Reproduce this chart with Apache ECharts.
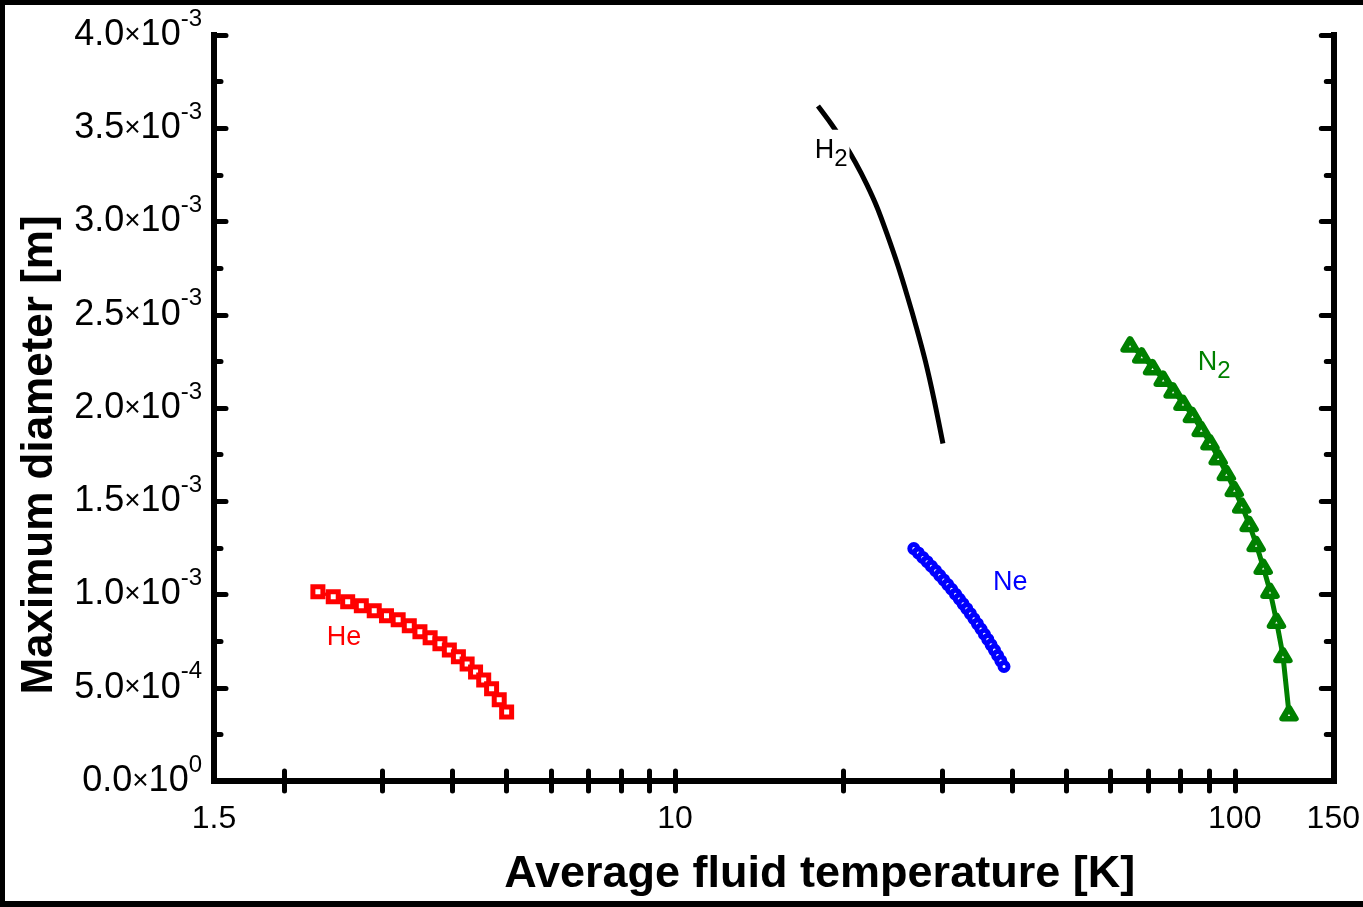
<!DOCTYPE html>
<html><head><meta charset="utf-8">
<script src="https://cdn.jsdelivr.net/npm/echarts@6/dist/echarts.min.js"></script>
<style>
html,body{margin:0;padding:0;background:#fff;}
#chart{width:1363px;height:907px;}
#frame{position:absolute;left:0;top:0;width:1358px;height:896px;border-left:5px solid #000;border-top:5px solid #000;border-bottom:6px solid #000;pointer-events:none;}
</style></head>
<body><div id="chart"></div><div id="frame"></div>
<script>
// ---- data ----
const heT = [2.3, 2.45, 2.6, 2.75, 2.9, 3.05, 3.2, 3.35, 3.5, 3.65, 3.8, 3.95, 4.1, 4.25, 4.4, 4.55, 4.7, 4.85, 5.0];
const heD = [1.015e-3, 0.988e-3, 0.961e-3, 0.940e-3, 0.913e-3, 0.886e-3, 0.864e-3, 0.832e-3, 0.800e-3, 0.768e-3,
             0.736e-3, 0.703e-3, 0.666e-3, 0.628e-3, 0.585e-3, 0.542e-3, 0.494e-3, 0.435e-3, 0.370e-3];

const neT = [26.7, 27.2, 27.7, 28.2, 28.7, 29.2, 29.7, 30.2, 30.7, 31.2, 31.7, 32.2, 32.7,
             33.2, 33.7, 34.2, 34.7, 35.2, 35.7, 36.2, 36.7, 37.2, 37.7, 38.2, 38.7];
const neD = [1.246e-3, 1.223e-3, 1.199e-3, 1.176e-3, 1.152e-3, 1.128e-3, 1.103e-3, 1.078e-3, 1.053e-3, 1.028e-3,
             1.002e-3, 0.976e-3, 0.950e-3, 0.924e-3, 0.897e-3, 0.870e-3, 0.842e-3, 0.815e-3, 0.787e-3, 0.759e-3,
             0.730e-3, 0.702e-3, 0.673e-3, 0.644e-3, 0.614e-3];

const h2T = [18, 19, 20, 21, 22, 23, 24, 25, 26, 27, 28, 29, 30.1];
const h2D = [3.619e-3, 3.524e-3, 3.424e-3, 3.316e-3, 3.199e-3, 3.070e-3, 2.920e-3, 2.765e-3, 2.600e-3, 2.430e-3,
             2.252e-3, 2.050e-3, 1.810e-3];

const n2T = [65.0, 68.2, 71.3, 74.5, 77.6, 80.8, 84.0, 87.1, 90.3, 93.4, 96.6, 99.8, 102.9, 106.1, 109.2,
             112.4, 115.6, 118.7, 121.9, 125.0];
const n2D = [2.341e-3, 2.282e-3, 2.219e-3, 2.157e-3, 2.094e-3, 2.028e-3, 1.963e-3, 1.888e-3, 1.816e-3, 1.736e-3,
             1.652e-3, 1.566e-3, 1.477e-3, 1.378e-3, 1.271e-3, 1.149e-3, 1.020e-3, 0.859e-3, 0.675e-3, 0.363e-3];

const xLabelValues = [1.5, 10, 100, 150];
const xTickValues = [2, 3, 4, 5, 6, 7, 8, 9, 10, 20, 30, 40, 50, 60, 70, 80, 90, 100];
const yMin = 0, yMax = 4.0e-3, yStep = 0.5e-3;

// series name labels: [text, T, D]
const heLabel = ['He', 2.561, 0.768e-3];
const neLabel = ['Ne', 39.7, 1.062e-3];
const h2Label = ['H', 19.0, 3.380e-3];
const n2Label = ['N', 91.9, 2.242e-3];

// ---- chart ----
const F = 'Liberation Sans, Arial, sans-serif';
const zip = (a, b) => a.map((v, i) => [v, b[i]]);

function sciLabel(v) {
  if (Math.abs(v) < 1e-12) return '{m|0.0}{x|×}{m|10}{s|0}';
  const e = Math.floor(Math.log10(v) + 1e-9);
  const m = v / Math.pow(10, e);
  return '{m|' + m.toFixed(1) + '}{x|×}{m|10}{s|' + e + '}';
}

function nameMark(lbl, color, sub, bg) {
  const fmt = sub ? '{a|' + lbl[0] + '}{b|2}' : '{a|' + lbl[0] + '}';
  return {
    symbol: 'rect', symbolSize: 1, silent: true, animation: false,
    itemStyle: { color: 'rgba(0,0,0,0)' },
    label: {
      show: true, position: 'inside', formatter: fmt,
      backgroundColor: bg ? '#fff' : 'transparent', padding: bg ? [0, 2, 0, 2] : 0,
      rich: {
        a: { fontSize: 27, fontFamily: F, color: color },
        b: { fontSize: 24, fontFamily: F, color: color, padding: [18, 0, 0, 0] }
      }
    },
    data: [{ coord: [lbl[1], lbl[2]] }]
  };
}

const xCommon = {
  type: 'log', logBase: 10, min: 1.5, max: 150,
  axisLine: { show: true, lineStyle: { color: '#000', width: 6, cap: 'square' } },
  axisTick: { show: true, inside: true, length: 10, customValues: xTickValues, lineStyle: { color: '#000', width: 5, cap: 'round' } },
  splitLine: { show: false }, minorTick: { show: false }, minorSplitLine: { show: false }
};
const yCommon = {
  type: 'value', min: yMin, max: yMax, interval: yStep,
  axisLine: { show: true, lineStyle: { color: '#000', width: 6, cap: 'square' } },
  axisTick: { show: true, inside: true, length: 12, lineStyle: { color: '#000', width: 5, cap: 'round' } },
  minorTick: { show: true, splitNumber: 2, length: 7, lineStyle: { color: '#000', width: 5, cap: 'round' } },
  splitLine: { show: false }, minorSplitLine: { show: false }
};

const chart = echarts.init(document.getElementById('chart'), null, { renderer: 'canvas' });
chart.setOption({
  animation: false,
  backgroundColor: '#fff',
  grid: { left: 214, right: 25, top: 35, bottom: 126, containLabel: false },
  xAxis: [
    Object.assign({}, xCommon, {
      position: 'bottom',
      axisLabel: {
        show: true, customValues: xLabelValues, margin: 22, fontSize: 32, fontFamily: F, color: '#000',
        formatter: v => String(Number(Number(v).toPrecision(6)))
      },
      name: 'Average fluid temperature [K]', nameLocation: 'middle', nameGap: 71,
      nameTextStyle: { fontSize: 45, fontWeight: 'bold', fontFamily: F, color: '#000', padding: [0, 0, 0, 92] }
    }),
    Object.assign({}, xCommon, { position: 'top', axisLabel: { show: false } })
  ],
  yAxis: [
    Object.assign({}, yCommon, {
      position: 'left',
      axisLabel: {
        show: true, margin: 12, formatter: sciLabel, color: '#000',
        rich: {
          m: { fontSize: 36, fontFamily: F, color: '#000' },
          x: { fontSize: 28, fontFamily: F, color: '#000' },
          s: { fontSize: 24, fontFamily: F, color: '#000', padding: [0, 0, 32, 0] }
        }
      },
      name: 'Maximum diameter [m]', nameLocation: 'middle', nameGap: 152,
      nameTextStyle: { fontSize: 44, fontWeight: 'bold', fontFamily: F, color: '#000', padding: [0, 94, 0, 0] }
    }),
    Object.assign({}, yCommon, { position: 'right', axisLabel: { show: false } })
  ],
  series: [
    {
      name: 'He', type: 'line', data: zip(heT, heD), symbol: 'rect', symbolSize: 10,
      itemStyle: { color: '#fff', borderColor: '#ff0000', borderWidth: 5 },
      lineStyle: { color: '#ff0000', width: 3 }, z: 3,
      markPoint: nameMark(heLabel, '#ff0000', false, false)
    },
    {
      name: 'Ne', type: 'line', data: zip(neT, neD), symbol: 'circle', symbolSize: 8,
      itemStyle: { color: '#fff', borderColor: '#0000ff', borderWidth: 5 },
      lineStyle: { color: '#0000ff', width: 3 }, z: 3,
      markPoint: nameMark(neLabel, '#0000ff', false, false)
    },
    {
      name: 'H2', type: 'line', data: zip(h2T, h2D), symbol: 'none', smooth: 0.3,
      lineStyle: { color: '#000', width: 5 }, z: 3,
      markPoint: nameMark(h2Label, '#000', true, true)
    },
    {
      name: 'N2', type: 'line', data: zip(n2T, n2D), symbol: 'triangle', symbolSize: [13, 11],
      itemStyle: { color: '#fff', borderColor: '#008000', borderWidth: 6, borderJoin: 'round' },
      lineStyle: { color: '#008000', width: 5 }, z: 3,
      markPoint: nameMark(n2Label, '#008000', true, false)
    }
  ]
});
</script>
</body></html>
